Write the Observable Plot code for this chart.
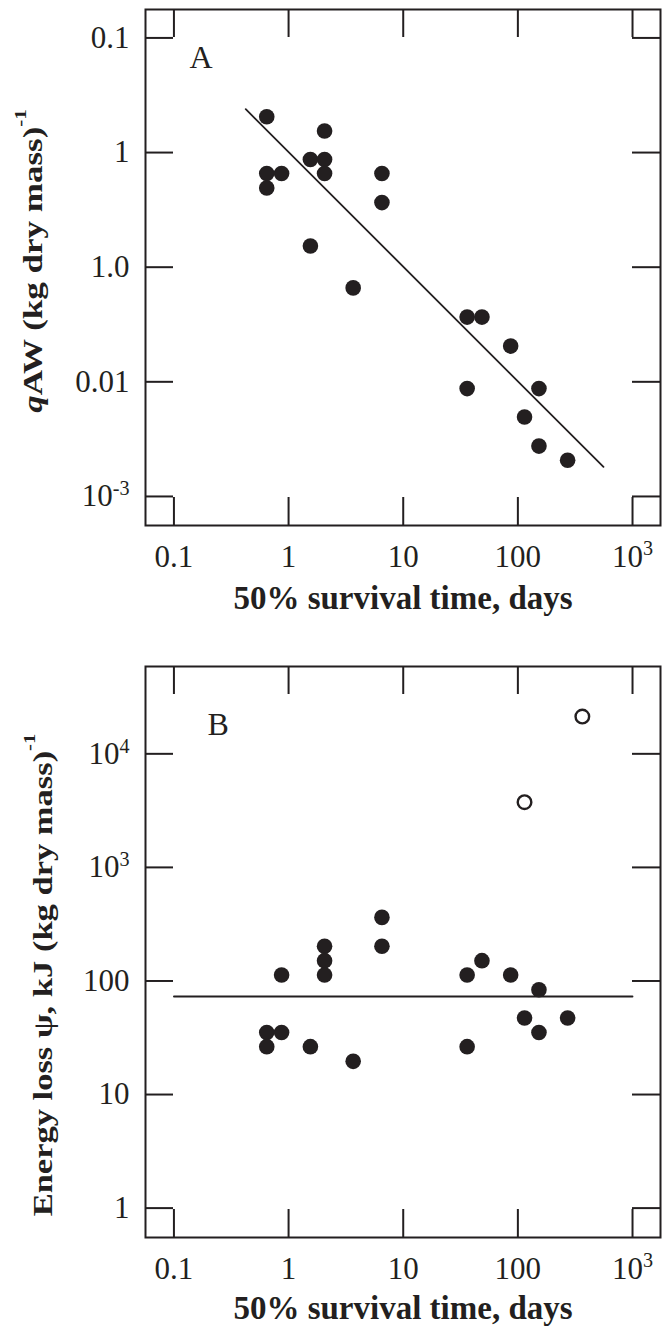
<!DOCTYPE html>
<html><head><meta charset="utf-8">
<script src="https://cdn.jsdelivr.net/npm/d3@7"></script>
<script src="https://cdn.jsdelivr.net/npm/@observablehq/plot@0.6"></script>
<style>
html,body{margin:0;padding:0;background:#fff;}
svg{display:block;}
</style></head><body><div id="chart"></div>
<script>
// ---- data ----
const survivalA = [0.645, 2.06, 1.55, 2.06, 0.645, 0.869, 2.06, 6.52, 0.645, 6.52, 1.55, 3.66, 36.1, 48.6, 86.5, 36.1, 152.7, 114.3, 152.7, 271.6];
const qawA      = [2.05, 1.54, 0.869, 0.869, 0.656, 0.656, 0.656, 0.656, 0.491, 0.366, 0.153, 0.066, 0.0367, 0.0367, 0.0205, 0.00873, 0.00873, 0.00493, 0.00275, 0.00207];
const fitAX = [0.423, 558];
const fitAY = [2.39, 0.00181];

const survivalB = [6.52, 6.52, 2.06, 2.06, 48.6, 0.869, 2.06, 36.1, 86.5, 152.7, 114.3, 271.6, 0.645, 0.869, 152.7, 0.645, 1.55, 36.1, 3.66];
const energyB   = [363, 202, 202, 151, 151, 113, 113, 113, 113, 83.8, 47.2, 47.2, 35.2, 35.2, 35.2, 26.4, 26.4, 26.4, 19.6];
const survivalOpenB = [365, 114.3];
const energyOpenB   = [21300, 3750];
const fitBX = [0.1, 1000];
const fitBY = [73, 73];

const xTicks = [0.1, 1, 10, 100, 1000];
const xTickLabels = ["0.1", "1", "10", "100", "10^3"];
const yTicksA = [10, 1, 0.1, 0.01, 0.001];
const yTickLabelsA = ["0.1", "1", "1.0", "0.01", "10^-3"];
const yTicksB = [1e4, 1e3, 100, 10, 1];
const yTickLabelsB = ["10^4", "10^3", "100", "10", "1"];
const xTitle = "50% survival time, days";
const panelLabels = ["A", "B"];
const yTitleA = [{t: "q", italic: true}, {t: "AW (kg dry mass)"}, {t: "-1", sup: true}];
const yTitleB = [{t: "Energy loss ψ, kJ (kg dry mass)"}, {t: "-1", sup: true}];

// ---- drawing ----
const INK = "#231f20";
const FONT = "'Liberation Serif','Times New Roman',Times,serif";
const W = 662, ML = 145, MR = 2, TICK = 28;
const xDomain = [0.0565, 1754];

function panel({height, marginTop, marginBottom, yDomain, yTicks, yLabels, dataMarks, label, labelDx, labelDy, titleDy}) {
  const fw = W - ML - MR, fh = height - marginTop - marginBottom;
  const tick = {stroke: INK, strokeWidth: 2};
  const svg = Plot.plot({
    width: W, height, marginLeft: ML, marginRight: MR, marginTop, marginBottom,
    style: {fontFamily: FONT, fontSize: "31px", color: INK, background: "#fff", overflow: "visible"},
    x: {type: "log", domain: xDomain},
    y: {type: "log", domain: yDomain},
    marks: [
      Plot.ruleX(xTicks, {x: d => d, insetBottom: fh - TICK, ...tick}),
      Plot.ruleX(xTicks, {x: d => d, insetTop: fh - TICK, ...tick}),
      Plot.ruleY(yTicks, {y: d => d, insetRight: fw - TICK, ...tick}),
      Plot.ruleY(yTicks, {y: d => d, insetLeft: fw - TICK, ...tick}),
      Plot.frame({stroke: INK, strokeWidth: 2}),
      Plot.axisX({ticks: xTicks, tickSize: 0, tickPadding: 19, label: null, fill: INK,
        tickFormat: d => xTickLabels[xTicks.indexOf(d)]}),
      Plot.axisY({ticks: yTicks, tickSize: 0, tickPadding: 16, label: null, fill: INK,
        tickFormat: d => yLabels[yTicks.indexOf(d)]}),
      ...dataMarks,
      Plot.text([label], {text: d => d, frameAnchor: "top-left", dx: labelDx, dy: labelDy,
        lineAnchor: "bottom", fontSize: 32, fill: INK}),
      Plot.text([xTitle], {text: d => d, frameAnchor: "bottom", dy: titleDy,
        lineAnchor: "bottom", fontSize: 33, fontWeight: "bold", fill: INK})
    ]
  });
  // superscripts in tick labels
  d3.select(svg).selectAll("text").each(function() {
    const s = this.textContent;
    if (s.includes("^") && this.childElementCount === 0) {
      const [base, exp] = s.split("^");
      this.textContent = base;
      d3.select(this).append("tspan").attr("dy", "-0.55em").attr("font-size", "0.65em").text(exp);
    }
  });
  return svg;
}

function addYTitle(svg, parts, x, y, size, sx) {
  const t = d3.select(svg).append("text")
    .attr("transform", `translate(${x},${y}) rotate(-90) scale(1,${sx})`)
    .attr("text-anchor", "middle").attr("font-weight", "bold")
    .attr("font-size", size).attr("font-family", FONT).attr("fill", INK);
  for (const p of parts) {
    const sp = t.append("tspan").text(p.t);
    if (p.italic) sp.attr("font-style", "italic");
    if (p.sup) sp.attr("font-size", "0.6em").attr("dy", "-1.0em");
  }
}

const svgA = panel({
  height: 640, marginTop: 9, marginBottom: 115,
  yDomain: [5.58e-4, 17.7], yTicks: yTicksA, yLabels: yTickLabelsA,
  dataMarks: [
    Plot.line(fitAX, {x: fitAX, y: fitAY, stroke: INK, strokeWidth: 1.8}),
    Plot.dot(qawA, {x: survivalA, y: qawA, r: 7.8, fill: INK, stroke: "none"})
  ],
  label: panelLabels[0], labelDx: 44, labelDy: 58, titleDy: 83
});
addYTitle(svgA, yTitleA, 42, 261, 35, 0.76);

const svgB = panel({
  height: 687, marginTop: 26, marginBottom: 90,
  yDomain: [0.551, 58750], yTicks: yTicksB, yLabels: yTickLabelsB,
  dataMarks: [
    Plot.line(fitBX, {x: fitBX, y: fitBY, stroke: INK, strokeWidth: 1.8}),
    Plot.dot(energyB, {x: survivalB, y: energyB, r: 7.8, fill: INK, stroke: "none"}),
    Plot.dot(energyOpenB, {x: survivalOpenB, y: energyOpenB, r: 6.8, fill: "#fff", stroke: INK, strokeWidth: 2.4})
  ],
  label: panelLabels[1], labelDx: 62, labelDy: 68, titleDy: 81
});
addYTitle(svgB, yTitleB, 52, 335, 34.5, 0.8);

const root = document.getElementById("chart");
root.appendChild(svgA);
root.appendChild(svgB);
</script>
</body></html>
